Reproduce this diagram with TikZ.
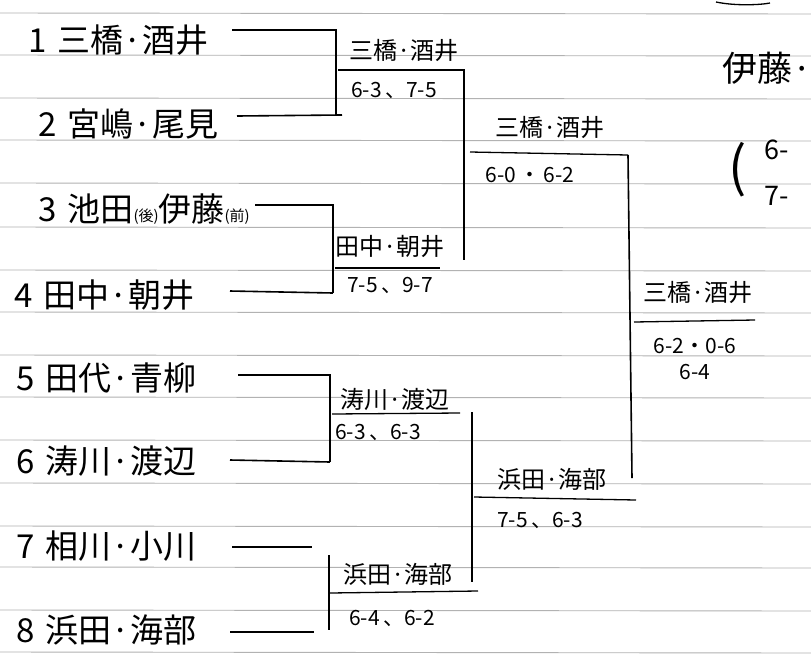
\documentclass[tikz,border=0pt]{standalone}
\usepackage{fontspec}
\setmainfont{Noto Sans CJK JP}
\begin{document}
\begin{tikzpicture}[x=1pt,y=-1pt,
  rule/.style={gray!60,line width=0.9pt},
  br/.style={black,line width=1.6pt},
  ul/.style={black,line width=1.3pt},
  entry/.style={anchor=west,inner sep=0pt,font=\fontsize{33}{34}\selectfont},
  win/.style={inner sep=0pt,font=\fontsize{24}{25}\selectfont},
  score/.style={inner sep=0pt,font=\fontsize{21}{22}\selectfont}]
\useasboundingbox (0,0) rectangle (811,654);
\clip (0,0) rectangle (811,654);
\fill[white] (0,0) rectangle (811,654);
% ruled paper
\foreach \yy in {13,55,98,140,183,227,270,312,355,397,440,483,526,567,610,652}
  \draw[rule] (0,\yy) -- (811,\yy+1);
% entries
\node[entry] (e1) at (28,40) {1\,\,三橋·酒井};
\node[entry] (e2) at (38,124) {2\,\,宮嶋·尾見};
\node[entry] (e3) at (38,209) {3\,\,池田{\fontsize{15}{16}\selectfont(後)}伊藤{\fontsize{15}{16}\selectfont(前)}};
\node[entry] (e4) at (14,295) {4\,\,田中·朝井};
\node[entry] (e5) at (16,378) {5\,\,田代·青柳};
\node[entry] (e6) at (16,461) {6\,\,涛川·渡辺};
\node[entry] (e7) at (16,546) {7\,\,相川·小川};
\node[entry] (e8) at (16,630) {8\,\,浜田·海部};
% bracket points
\coordinate (a1) at (232,30);  \coordinate (a2) at (336,30);
\coordinate (a3) at (336,115); \coordinate (a4) at (237,116);
\coordinate (b1) at (255,205); \coordinate (b2) at (333,205);
\coordinate (b3) at (333,293); \coordinate (b4) at (230,291);
\coordinate (c1) at (238,375); \coordinate (c2) at (330,375);
\coordinate (c3) at (330,462); \coordinate (c4) at (230,460);
\coordinate (d1) at (232,547); \coordinate (d2) at (312,547);
\coordinate (d3) at (329,555); \coordinate (d4) at (329,630);
\coordinate (d5) at (230,632); \coordinate (d6) at (314,632);
\draw[br] (a1) -- (a2) -- (a3);
\draw[br] (a4) -- (a3 -| 342,0);
\draw[br] (b1) -- (b2) -- (b3);
\draw[br] (b4) -- (b3);
\draw[br] (c1) -- (c2) -- (c3);
\draw[br] (c4) -- (c3);
\draw[br] (d1) -- (d2);
\draw[br] (d3) -- (d4);
\draw[br] (d5) -- (d6);
% round 1 winners
\node[win] (wA) at (404,50) {三橋·酒井};
\node[score] (sA) at (394,90) {6-3\,、7-5};
\coordinate (uA1) at (338,70); \coordinate (uA2) at (465,70);
\draw[ul] (uA1) -- (uA2);
\node[win] (wB) at (390,246) {田中·朝井};
\node[score] (sB) at (390,285) {7-5\,、9-7};
\coordinate (uB1) at (335,268); \coordinate (uB2) at (440,268);
\draw[ul] (uB1) -- (uB2);
\node[win] (wC) at (395,399) {涛川·渡辺};
\node[score] (sC) at (378,432) {6-3\,、6-3};
\coordinate (uC1) at (332,414); \coordinate (uC2) at (460,413);
\draw[ul] (uC1) -- (uC2);
\node[win] (wD) at (398,574) {浜田·海部};
\node[score] (sD) at (392,618) {6-4\,、6-2};
\coordinate (uD1) at (330,593); \coordinate (uD2) at (478,591);
\draw[ul] (uD1) -- (uD2);
% round 2 verticals
\coordinate (v1t) at (464,70); \coordinate (v1b) at (464,260);
\draw[br] (v1t) -- (v1b);
\coordinate (v2t) at (472,412); \coordinate (v2b) at (472,582);
\draw[br] (v2t) -- (v2b);
% round 2 winners
\node[win] (wAB) at (550,127) {三橋·酒井};
\node[score] (sAB) at (530,175) {6-0\,・\,6-2};
\coordinate (uAB1) at (470,152); \coordinate (uAB2) at (628,155);
\draw[ul] (uAB1) -- (uAB2);
\node[win] (wCD) at (552,479) {浜田·海部};
\node[score] (sCD) at (540,520) {7-5\,、6-3};
\coordinate (uCD1) at (474,497); \coordinate (uCD2) at (636,500);
\draw[ul] (uCD1) -- (uCD2);
% final vertical
\coordinate (vFt) at (628,155); \coordinate (vFb) at (632,478);
\draw[br] (vFt) -- (vFb);
% champion
\node[win] (wF) at (698,292) {三橋·酒井};
\coordinate (uF1) at (634,322); \coordinate (uF2) at (755,320);
\draw[ul] (uF1) -- (uF2);
\node[score] (sF1) at (695,346) {6-2・0-6};
\node[score] (sF2) at (695,372) {6-4};
% right margin fragments
\node[entry,font=\fontsize{35}{36}\selectfont] (r1) at (722,68) {伊藤·};
\node[inner sep=0pt,font=\fontsize{54}{56}\selectfont] (r2) at (738,170) {(};
\node[score,font=\fontsize{27}{28}\selectfont,anchor=west] (r3) at (764,150) {6-};
\node[score,font=\fontsize{27}{28}\selectfont,anchor=west] (r4) at (764,196) {7-};
\draw[line width=1.3pt] (716,2) .. controls (735,6) and (760,5) .. (770,3);
\end{tikzpicture}
\end{document}
